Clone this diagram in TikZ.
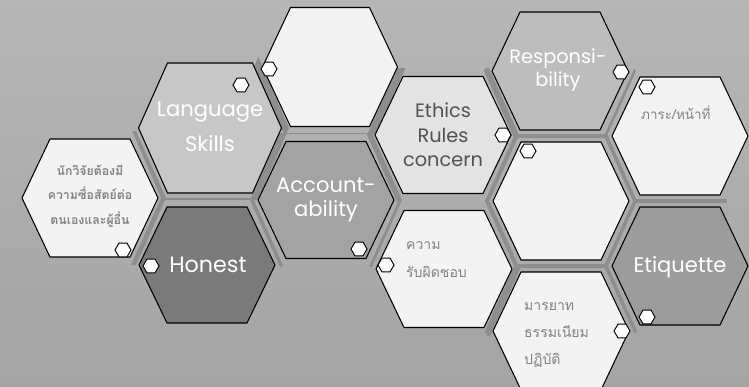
\documentclass[tikz,border=0pt]{standalone}
\usepackage{fontspec}
\setmainfont{Poppins}
\newfontfamily\thaifont[Script=Thai]{Loma}
\usetikzlibrary{shapes.geometric}

\definecolor{bgtop}{RGB}{182,182,182}
\definecolor{bgbottom}{RGB}{164,164,164}
\definecolor{band}{RGB}{142,142,142}
\definecolor{paper}{RGB}{243,243,243}
\definecolor{thaigray}{RGB}{130,130,130}

% hexagon around a named centre: half width, half height, slant
\newcommand\hexat[4]{(#1) ++(-#2,0) -- ++(#4,-#3) -- ++({2*#2-2*#4},0) -- ++(#4,#3) -- ++(-#4,#3) -- ++({-2*#2+2*#4},0) -- cycle}

\begin{document}
\begin{tikzpicture}[x=0.03cm,y=-0.03cm,
  hexcell/.style={draw=black,line width=0.9pt},
  tinyhex/.style={regular polygon,regular polygon sides=6,draw=black,line width=0.8pt,fill=white,minimum size=0.48cm,inner sep=0pt},
  word/.style={text=white,align=center,font=\fontsize{18}{21}\selectfont},
  thaiword/.style={text=thaigray,font=\thaifont\fontsize{11.5}{21}\selectfont}]

\useasboundingbox (0,0) rectangle (749,386);
\shade[top color=bgtop,bottom color=bgbottom] (0,0) rectangle (749,386);

\coordinate (thai) at (90,198);
\coordinate (lang) at (210,128);
\coordinate (hon) at (207,265);
\coordinate (blank1) at (330,67);
\coordinate (acc) at (326,200);
\coordinate (eth) at (443,135);
\coordinate (kwam) at (444,269);
\coordinate (resp) at (560,71);
\coordinate (blank2) at (561,201);
\coordinate (maryat) at (561,331);
\coordinate (phara) at (680,136);
\coordinate (etiq) at (680,266);

% dark gaps between neighbouring cells
\foreach \p/\q in {thai/hon,hon/acc,blank1/acc,blank1/eth,acc/eth,acc/kwam,eth/kwam,eth/resp,
  eth/blank2,kwam/blank2,kwam/maryat,resp/blank2,resp/phara,blank2/phara,blank2/etiq,
  blank2/maryat,maryat/etiq,phara/etiq}{
  \begin{scope}
    \clip \hexat{\p}{76}{67}{30};
    \fill[band] \hexat{\q}{76}{67}{30};
  \end{scope}
}
\foreach \q in {thai,hon,blank1,acc}{
  \begin{scope}
    \clip \hexat{lang}{79}{72}{31};
    \fill[band] \hexat{\q}{76}{67}{30};
  \end{scope}
}

\draw[hexcell,fill=paper] \hexat{thai}{68}{59}{28};
\draw[hexcell,fill=black!22] \hexat{lang}{71.5}{65}{29};
\draw[hexcell,fill=black!52] \hexat{hon}{68}{58}{28};
\draw[hexcell,fill=paper] \hexat{blank1}{67.5}{59.5}{28};
\draw[hexcell,fill=black!36] \hexat{acc}{68}{58.5}{28};
\draw[hexcell,fill=black!11] \hexat{eth}{68}{58.5}{28};
\draw[hexcell,fill=paper] \hexat{kwam}{68}{58.5}{28};
\draw[hexcell,fill=black!26] \hexat{resp}{68}{59}{28};
\draw[hexcell,fill=paper] \hexat{blank2}{68}{59}{28};
\draw[hexcell,fill=paper] \hexat{maryat}{68}{59}{28};
\draw[hexcell,fill=paper] \hexat{phara}{68}{59}{28};
\draw[hexcell,fill=black!39] \hexat{etiq}{68}{59}{28};

\node[tinyhex] (thai-pin) at (123,250) {};
\node[tinyhex] (hon-pin) at (151,266) {};
\node[tinyhex] (lang-pin) at (241,85) {};
\node[tinyhex] (blank1-pin) at (269,69) {};
\node[tinyhex] (acc-pin) at (359,249) {};
\node[tinyhex] (kwam-pin) at (386,265) {};
\node[tinyhex] (eth-pin) at (503,135) {};
\node[tinyhex] (blank2-pin) at (528,151) {};
\node[tinyhex] (resp-pin) at (621,72) {};
\node[tinyhex] (phara-pin) at (647,87) {};
\node[tinyhex] (etiq-pin) at (647,317) {};
\node[tinyhex] (maryat-pin) at (622,331) {};

\node[thaiword,align=center,font=\thaifont\bfseries\fontsize{10.5}{21}\selectfont] (thai-text) at (90,196) {นักวิจัยต้องมี\\ความซื่อสัตย์ต่อ\\ตนเองและผู้อื่น};
\node[word,font=\fontsize{19}{22}\selectfont] (hon-text) at (208,265) {Honest};
\node[word,font=\fontsize{18}{30}\selectfont] (lang-text) at (210,127) {Language\\Skills};
\node[word] (acc-text) at (326,200) {Account-\\ability};
\node[word,text=black!68,font=\fontsize{16.5}{21}\selectfont] (eth-text) at (443,135) {Ethics\\Rules\\concern};
\node[thaiword,align=left,font=\thaifont\fontsize{12}{24}\selectfont,anchor=west] (kwam-text) at (402,260) {ความ\\รับผิดชอบ};
\node[word,font=\fontsize{16.5}{20}\selectfont] (resp-text) at (558,70) {Responsi-\\bility};
\node[thaiword,anchor=west,inner sep=0pt] (phara-text) at (641,113) {ภาระ/หน้าที่};
\node[word] (etiq-text) at (680,267) {Etiquette};
\node[thaiword,align=left,font=\thaifont\fontsize{12}{23}\selectfont,anchor=west] (maryat-text) at (520,335) {มารยาท\\ธรรมเนียม\\ปฏิบัติ};

\end{tikzpicture}
\end{document}
